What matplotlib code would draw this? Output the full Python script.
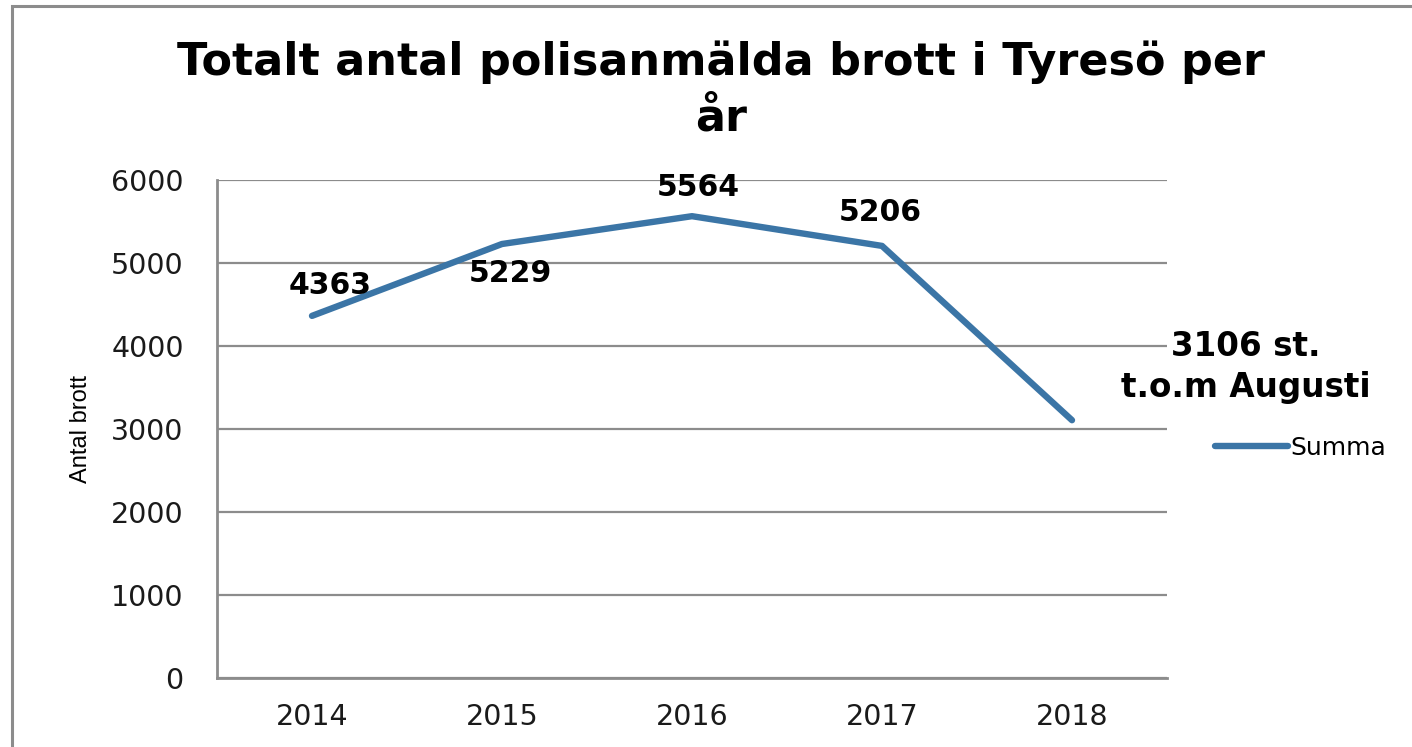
import numpy as np
import matplotlib
matplotlib.use("Agg")
from matplotlib import pyplot as plt
from matplotlib.patches import Rectangle

plt.rcParams['font.family'] = ['DejaVu Sans']

years = ['2014', '2015', '2016', '2017', '2018']
summa = [4363, 5229, 5564, 5206, 3106]
labels = ['4363', '5229', '5564', '5206', '3106 st.\nt.o.m Augusti']
# label offsets in pixels (dx, dy) and font sizes
offsets = [(18, 30), (8, -30), (6, 29), (-2, 33), (174, 53)]
label_sizes = [21.5, 21.5, 21.5, 21.5, 23.5]

W, H = 1412, 747
fig = plt.figure(figsize=(W / 100, H / 100), dpi=100)
ax = fig.add_axes([217 / W, 1 - 678 / H, 950 / W, 498 / H])

x = np.arange(len(years))
ax.plot(x, summa, color='#3b75a6', lw=4.6, solid_capstyle='round',
        solid_joinstyle='round', label='Summa', zorder=3)

for i, (v, lab) in enumerate(zip(summa, labels)):
    dx, dy = offsets[i]
    ax.annotate(lab, (x[i], v), xytext=(dx * 0.72, dy * 0.72), textcoords='offset points',
                ha='center', va='center', fontsize=label_sizes[i], fontweight='bold',
                linespacing=1.3, multialignment='center', zorder=4,
                annotation_clip=False)

ax.set_xlim(-0.5, 4.5)
ax.set_ylim(0, 6000)
ax.set_xticks(x)
ax.set_xticklabels(years)
ax.set_yticks(np.arange(0, 6001, 1000))
ax.yaxis.grid(True, color='#8c8c8c', lw=1.6)
ax.set_axisbelow(True)
ax.tick_params(axis='both', length=0, labelsize=20.5, colors='#1a1a1a')
ax.tick_params(axis='y', pad=24)
ax.tick_params(axis='x', pad=18)
for s in ['top', 'right']:
    ax.spines[s].set_visible(False)
for s in ['left', 'bottom']:
    ax.spines[s].set_color('#8c8c8c')
    ax.spines[s].set_linewidth(2)

ax.set_ylabel('Antal brott', fontsize=17,
              family=['Liberation Sans Narrow', 'Liberation Sans', 'DejaVu Sans'],
              labelpad=14)

leg = ax.legend(loc='center left', bbox_to_anchor=(1.04, 0.462), frameon=False,
                fontsize=18, handlelength=2.9, handletextpad=0.1, borderaxespad=0)

fig.text(721 / W, 1 - 62 / H, 'Totalt antal polisanmälda brott i Tyresö per',
         ha='center', va='center', fontsize=32, fontweight='bold')
fig.text(721 / W, 1 - 118 / H, 'år', ha='center', va='center',
         fontsize=32, fontweight='bold')

# chart area border (cut off at right and bottom)
fig.patches.append(Rectangle((12 / W, -0.1), 1.2, 1 - 6 / H + 0.1,
                             transform=fig.transFigure, fill=False,
                             edgecolor='#8c8c8c', lw=2.2))

fig.savefig('out.png', dpi=100)
